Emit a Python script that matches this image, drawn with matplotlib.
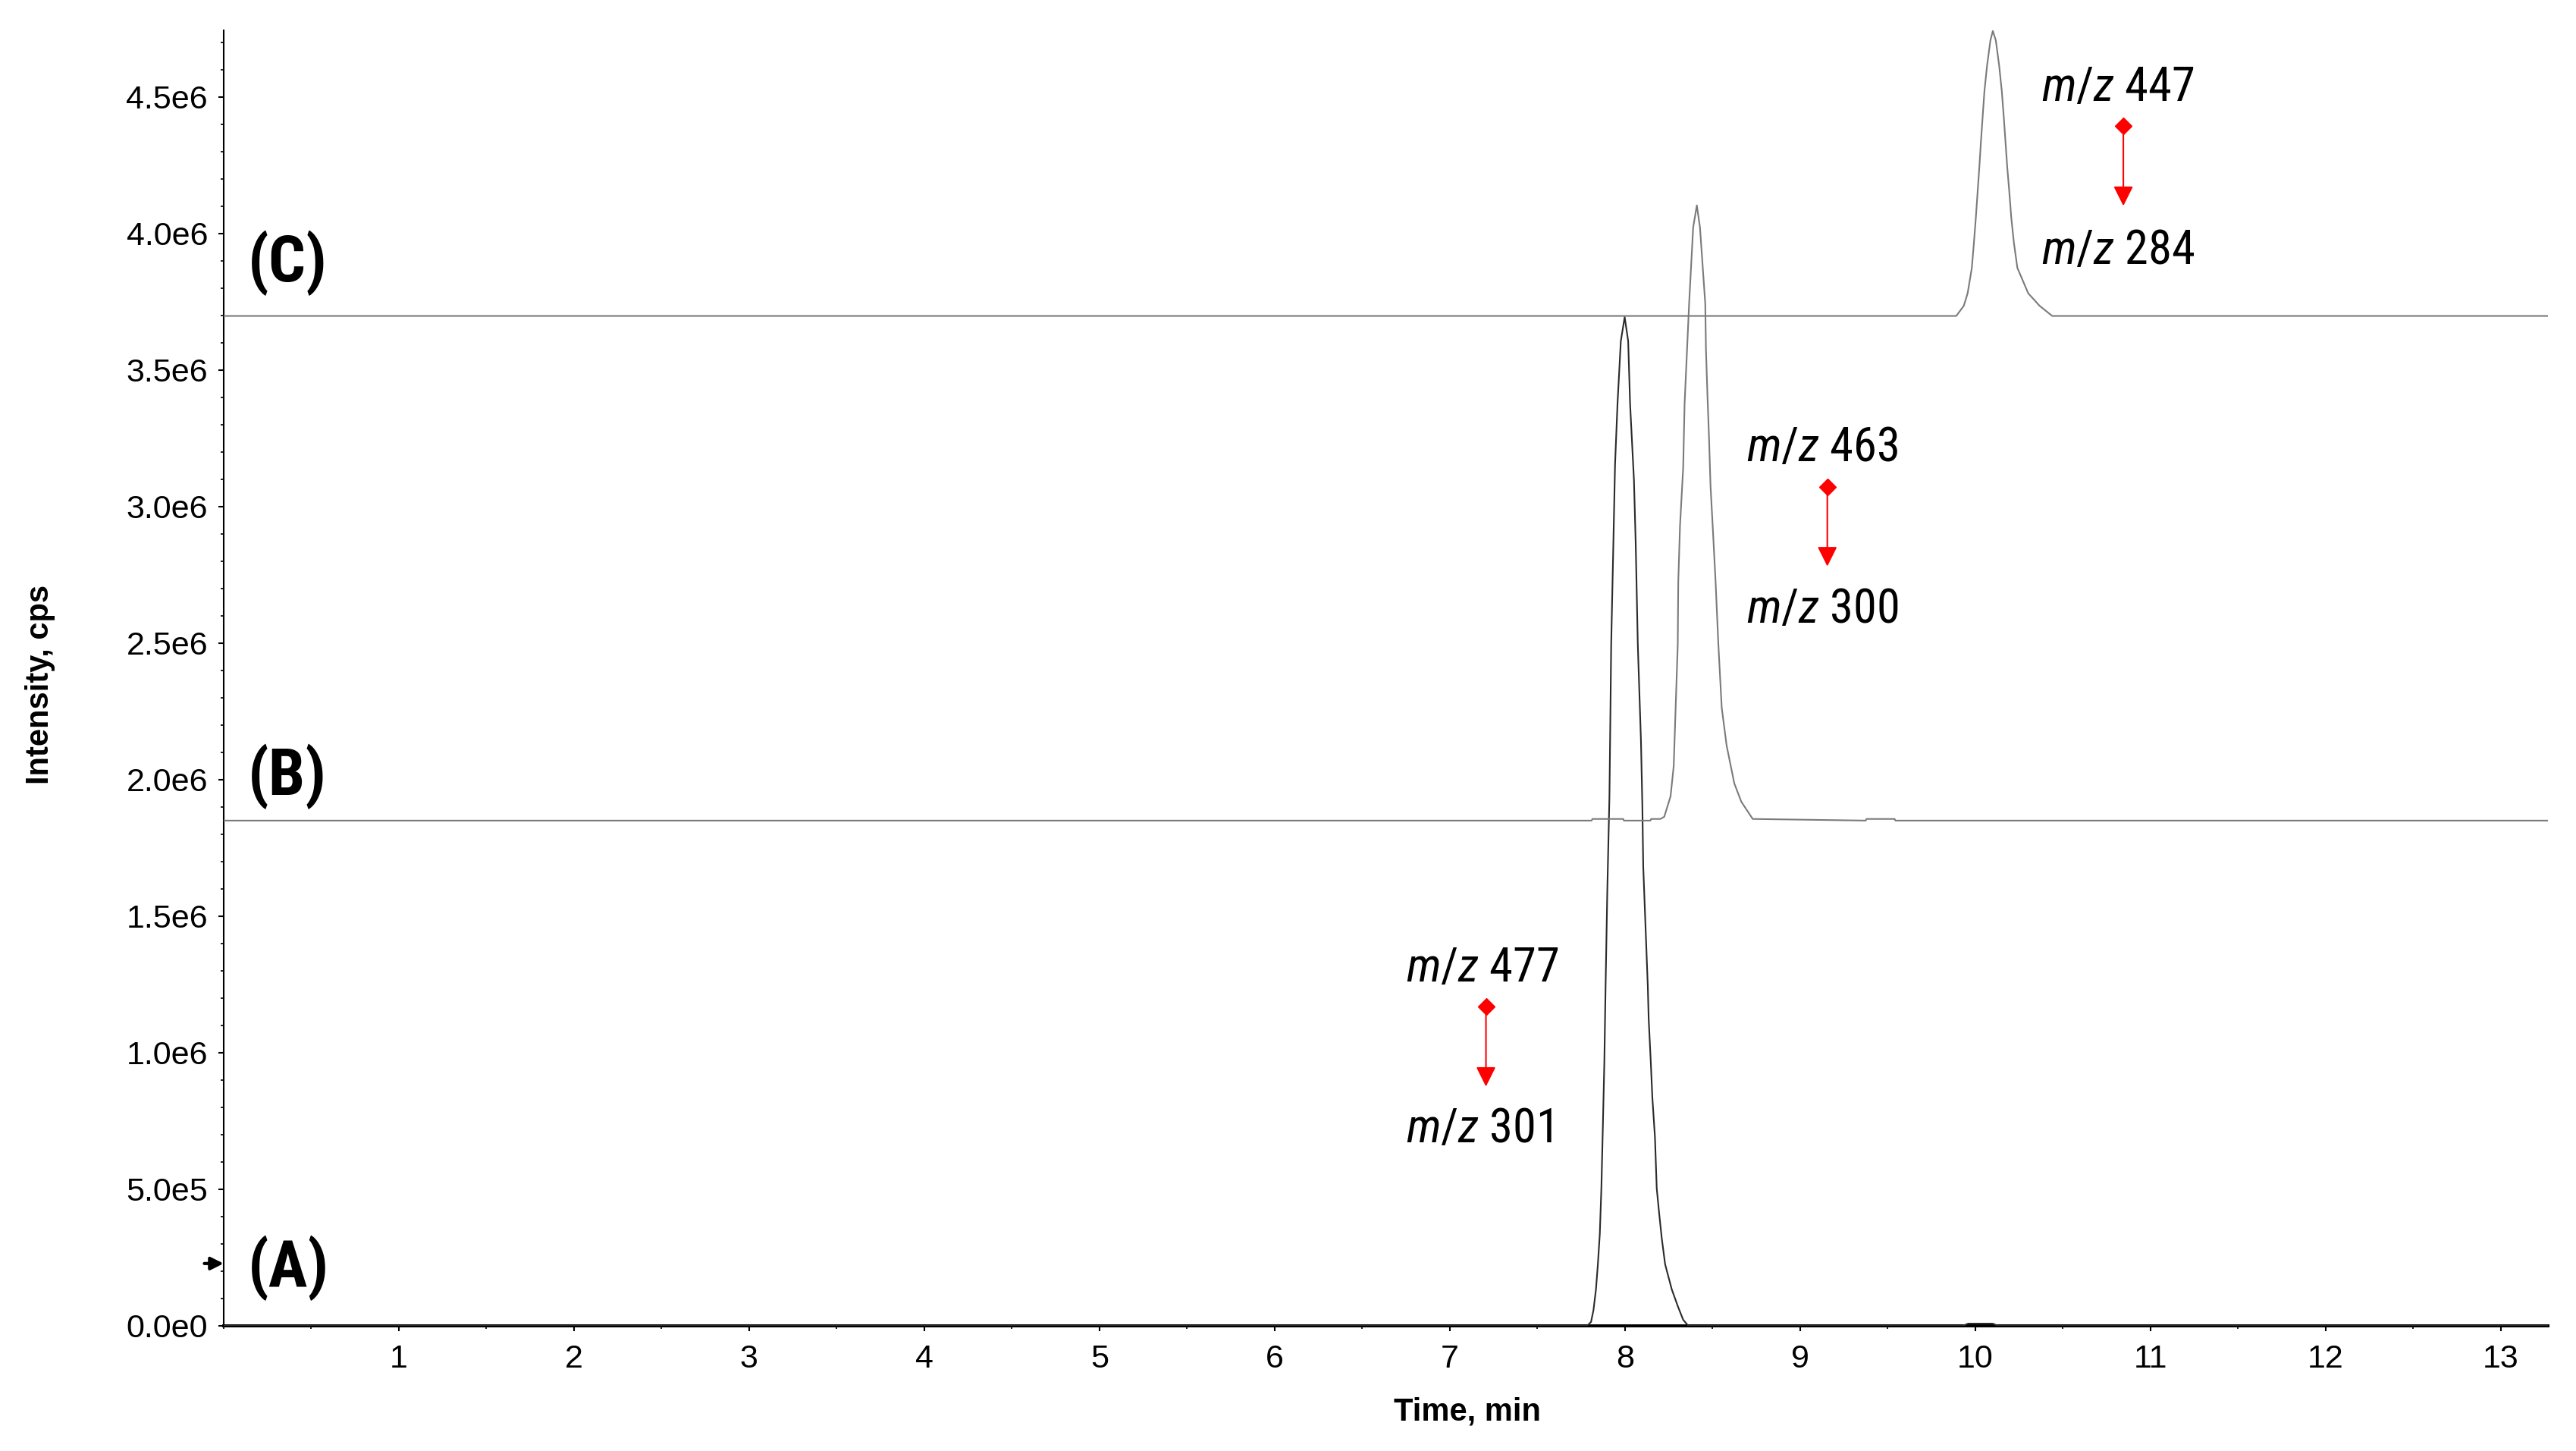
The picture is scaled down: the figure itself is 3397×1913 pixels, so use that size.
import numpy as np
import matplotlib
matplotlib.use('Agg')
import matplotlib.pyplot as plt
from matplotlib.ticker import MultipleLocator, FuncFormatter

COND = ['Roboto Condensed', 'Liberation Sans Narrow', 'PT Sans Narrow', 'DejaVu Sans']

plt.rcParams['font.family'] = ['Liberation Sans', 'DejaVu Sans']
plt.rcParams['mathtext.fontset'] = 'custom'
plt.rcParams['mathtext.it'] = 'Roboto Condensed:italic'
plt.rcParams['mathtext.rm'] = 'Roboto Condensed'

# traces: time (min), intensity above own baseline (1e6 cps)
time_a = [0.0, 7.785, 7.807, 7.821, 7.835, 7.846, 7.857, 7.866, 7.874, 7.883, 7.890,
          7.900, 7.912, 7.918, 7.922, 7.936, 7.944, 7.958, 7.977, 7.999, 8.019, 8.030,
          8.052, 8.062, 8.074, 8.092, 8.100, 8.105, 8.131, 8.136, 8.148, 8.157, 8.172,
          8.182, 8.196, 8.211, 8.230, 8.268, 8.304, 8.333, 8.362, 9.93, 9.96, 10.10,
          10.13, 13.27]
int_a = [0.0, 0.0, 0.014, 0.058, 0.133, 0.225, 0.336, 0.503, 0.717, 0.967, 1.244,
         1.597, 1.939, 2.264, 2.494, 2.911, 3.153, 3.375, 3.606, 3.694, 3.606, 3.375,
         3.097, 2.864, 2.494, 2.142, 1.903, 1.681, 1.244, 1.125, 0.967, 0.836, 0.689,
         0.503, 0.411, 0.319, 0.225, 0.133, 0.069, 0.022, 0.0, 0.0, 0.008, 0.008,
         0.0, 0.0]

time_b = [0.0, 7.81, 7.815, 7.99, 7.995, 8.146, 8.15, 8.203, 8.225, 8.261, 8.279,
          8.290, 8.302, 8.305, 8.315, 8.333, 8.341, 8.367, 8.390, 8.411, 8.429, 8.459,
          8.463, 8.471, 8.481, 8.489, 8.503, 8.518, 8.534, 8.553, 8.581, 8.625, 8.665,
          8.730, 9.375, 9.38, 9.54, 9.545, 13.27]
int_b = [0.0, 0.0, 0.006, 0.006, 0.0, 0.0, 0.006, 0.006, 0.014, 0.089, 0.200,
         0.414, 0.644, 0.875, 1.081, 1.292, 1.525, 1.894, 2.172, 2.253, 2.172, 1.894,
         1.728, 1.569, 1.394, 1.228, 1.061, 0.875, 0.644, 0.414, 0.275, 0.136, 0.069,
         0.006, 0.0, 0.006, 0.006, 0.0, 0.0]

time_c = [0.0, 9.892, 9.935, 9.957, 9.981, 9.993, 10.004, 10.014, 10.024, 10.033,
          10.043, 10.053, 10.068, 10.087, 10.101, 10.118, 10.137, 10.152, 10.163,
          10.173, 10.183, 10.195, 10.206, 10.221, 10.241, 10.303, 10.368, 10.440, 13.27]
int_c = [0.0, 0.0, 0.037, 0.083, 0.176, 0.269, 0.361, 0.454, 0.546, 0.639, 0.732,
         0.824, 0.917, 1.009, 1.044, 1.009, 0.917, 0.824, 0.732, 0.639, 0.546, 0.454,
         0.361, 0.269, 0.176, 0.083, 0.037, 0.0, 0.0]

offsets = [0.0, 1.85, 3.698]          # 1e6 cps, vertical stacking of the traces
trace_names = ['(A)', '(B)', '(C)']
precursor = ['477', '463', '447']
product = ['301', '300', '284']

fig = plt.figure(figsize=(33.97, 19.13), dpi=100)
ax = fig.add_axes([0.0868, 0.0863, 0.9023, 0.8928])

traces = [(time_a, int_a, '#2a2a2a'), (time_b, int_b, '#7a7a7a'), (time_c, int_c, '#7a7a7a')]
for (t, y, col), off in zip(traces, offsets):
    ax.plot(t, (np.array(y) + off) * 1e6, color=col, lw=1.5, zorder=3)

ax.set_xlim(0, 13.27)
ax.set_ylim(0, 4.744e6)

# trace labels
label_pos = [(0.14, 0.143e6), (0.14, 1.945e6), (0.14, 3.824e6)]
for name, (x, y) in zip(trace_names, label_pos):
    ax.text(x, y, name, fontsize=62, fontweight='bold', family=COND,
            ha='left', va='baseline')

# MRM transitions with red arrows
text_x = [6.749, 8.694, 10.38]
top_y = [1.262e6, 3.166e6, 4.486e6]
bot_y = [0.672e6, 2.576e6, 3.888e6]
arrow_x = [7.207, 9.156, 10.846]
arrow_top = [1.169e6, 3.073e6, 4.395e6]
arrow_tip = [0.876e6, 2.781e6, 4.101e6]
for i in range(3):
    ax.text(text_x[i], top_y[i], r'$m/z$ ' + precursor[i], fontsize=45, family=COND,
            ha='left', va='baseline')
    ax.text(text_x[i], bot_y[i], r'$m/z$ ' + product[i], fontsize=45, family=COND,
            ha='left', va='baseline')
    ax.annotate('', xy=(arrow_x[i], arrow_tip[i]), xytext=(arrow_x[i], arrow_top[i]),
                arrowprops=dict(arrowstyle='-|>', color='#ff0000', lw=1.5,
                                mutation_scale=40, shrinkA=0, shrinkB=0))
    ax.plot(arrow_x[i], arrow_top[i], marker='D', color='#ff0000', markersize=11, zorder=4)

# small marker arrow on the y axis for trace A
ax.annotate('', xy=(0.0, 0.228e6), xytext=(-0.11, 0.228e6),
            arrowprops=dict(arrowstyle='-|>', color='black', lw=3, mutation_scale=25,
                            shrinkA=0, shrinkB=0), annotation_clip=False)

def sci(v, pos):
    if v == 0:
        return '0.0e0'
    e = int(np.floor(np.log10(abs(v)) + 1e-9))
    return f'{v / 10**e:.1f}e{e}'

ax.xaxis.set_major_locator(MultipleLocator(1))
ax.xaxis.set_minor_locator(MultipleLocator(0.5))
ax.set_xticks(np.arange(1, 14))
ax.yaxis.set_major_locator(MultipleLocator(0.5e6))
ax.yaxis.set_minor_locator(MultipleLocator(1e5))
ax.yaxis.set_major_formatter(FuncFormatter(sci))

ax.tick_params(axis='y', which='major', length=5, width=1.5, labelsize=31, pad=10, direction='out')
ax.tick_params(axis='y', which='minor', length=3, width=1.2, direction='out')
ax.tick_params(axis='x', which='major', length=5, width=1.5, labelsize=31, pad=12, direction='out')
ax.tick_params(axis='x', which='minor', length=3, width=1.2, direction='out')

for s in ['top', 'right']:
    ax.spines[s].set_visible(False)
ax.spines['left'].set_linewidth(1.5)
ax.spines['bottom'].set_linewidth(2.9)

ax.text(0.535, -0.0667, 'Time, min', transform=ax.transAxes, fontsize=30,
        fontweight='bold', ha='center', va='center')
ax.text(-0.079, 0.495, 'Intensity, cps', transform=ax.transAxes, fontsize=30,
        fontweight='bold', rotation=90, ha='center', va='center')

fig.savefig('out.png', dpi=100)
